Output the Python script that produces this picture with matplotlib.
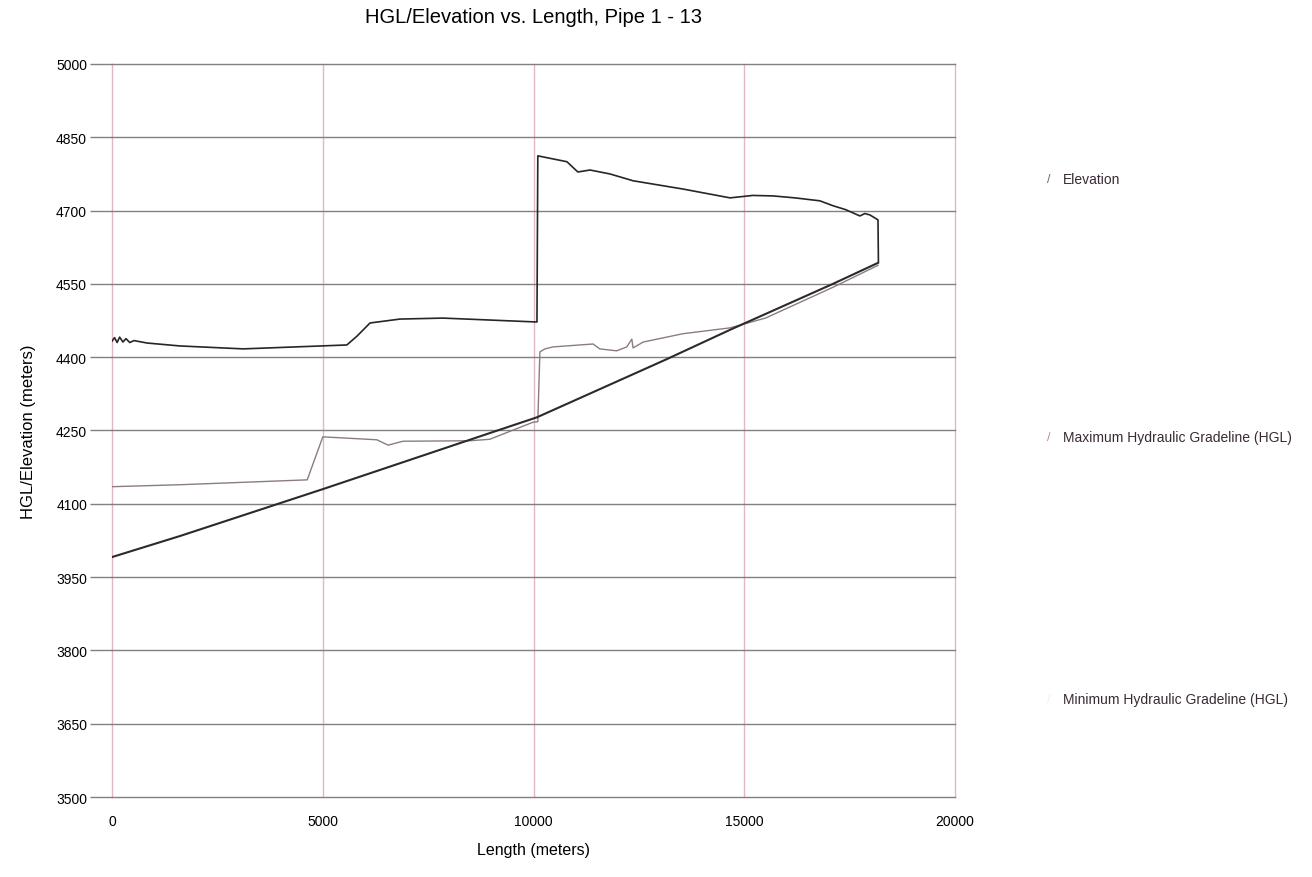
import matplotlib
matplotlib.use('Agg')
import matplotlib.pyplot as plt
import numpy as np

plt.rcParams['font.family'] = ['Liberation Sans', 'DejaVu Sans']

#------------------------------------------------
# data (length in m, elevation / HGL in m)
elev_x = [0, 1610, 5000, 9040, 10080, 13160, 14660, 17100, 18170]
elev_y = [3991, 4034, 4130, 4247, 4277, 4396, 4456, 4550, 4593]

max_x = [0, 60, 120, 180, 260, 330, 420, 520, 830, 1610, 3110, 5570, 5810, 6120,
         6830, 7850, 10080, 10100, 10790, 11050, 11340, 11810, 12360, 13550,
         14660, 15200, 15680, 16200, 16790, 17100, 17400, 17740, 17860, 17980, 18170, 18180]
max_y = [4433, 4440, 4430, 4441, 4431, 4438, 4430, 4434, 4429, 4423, 4417, 4425, 4443, 4470,
         4478, 4480, 4472, 4812, 4800, 4779, 4783, 4775, 4761, 4744,
         4726, 4731, 4730, 4726, 4720, 4710, 4702, 4689, 4694, 4691, 4681, 4595]

min_x = [0, 1610, 4630, 5000, 6280, 6550, 6900, 8490, 8960, 9990, 10100, 10150, 10270,
         10460, 11410, 11570, 11970, 12210, 12330, 12360, 12600, 13540, 14660,
         15500, 17100, 18170]
min_y = [4135, 4139, 4149, 4237, 4231, 4220, 4228, 4229, 4232, 4267, 4268, 4411, 4417,
         4421, 4427, 4417, 4413, 4421, 4437, 4419, 4431, 4448, 4460,
         4480, 4543, 4588]

series_names = ['Elevation', 'Maximum Hydraulic Gradeline (HGL)', 'Minimum Hydraulic Gradeline (HGL)']
y_ticks = [3500, 3650, 3800, 3950, 4100, 4250, 4400, 4550, 4700, 4850, 5000]
x_ticks = [0, 5000, 10000, 15000, 20000]

#------------------------------------------------
fig = plt.figure(figsize=(13.12, 8.78), dpi=100)
ax = fig.add_axes([0.0854, 0.0911, 0.6426, 0.8349])

ax.set_xlim(0, 20000)
ax.set_ylim(3500, 5000)

# grid: vertical pink, horizontal gray
for xv in x_ticks:
    ax.axvline(xv, color='#e0b6ca', lw=1.0, zorder=1, clip_on=False)
for yv in y_ticks:
    ax.axhline(yv, color='#808080', lw=1.0, zorder=1, clip_on=False)

ax.plot(min_x, min_y, color='#8a7c82', lw=1.0, zorder=3)
ax.plot(elev_x, elev_y, color='#2a2a2a', lw=1.5, zorder=4)
ax.plot(max_x, max_y, color='#262626', lw=1.2, zorder=4)

for s in ax.spines.values():
    s.set_visible(False)

ax.set_yticks(y_ticks)
ax.set_xticks(x_ticks)
ax.tick_params(axis='y', length=16, width=1.0, color='#808080', pad=2, labelsize=10)
ax.tick_params(axis='x', length=0, pad=12, labelsize=10)

ax.set_title('HGL/Elevation vs. Length, Pipe 1 - 13', fontsize=14.5, pad=30)
ax.set_ylabel('HGL/Elevation (meters)', fontsize=12, labelpad=14)
ax.set_xlabel('Length (meters)', fontsize=11.5, labelpad=10)

# legend entries, spread down the right side
legend_y = [0.795, 0.501, 0.203]
marker_col = ['#7a5870', '#b888a8', '#eeeeee']
for name, yy, mc in zip(series_names, legend_y, marker_col):
    fig.text(0.799, yy, '/', color=mc, fontsize=9, va='center', ha='center')
    fig.text(0.810, yy, name, color='#3a2a35', fontsize=10, va='center', ha='left')

fig.savefig('out.png', dpi=100)
